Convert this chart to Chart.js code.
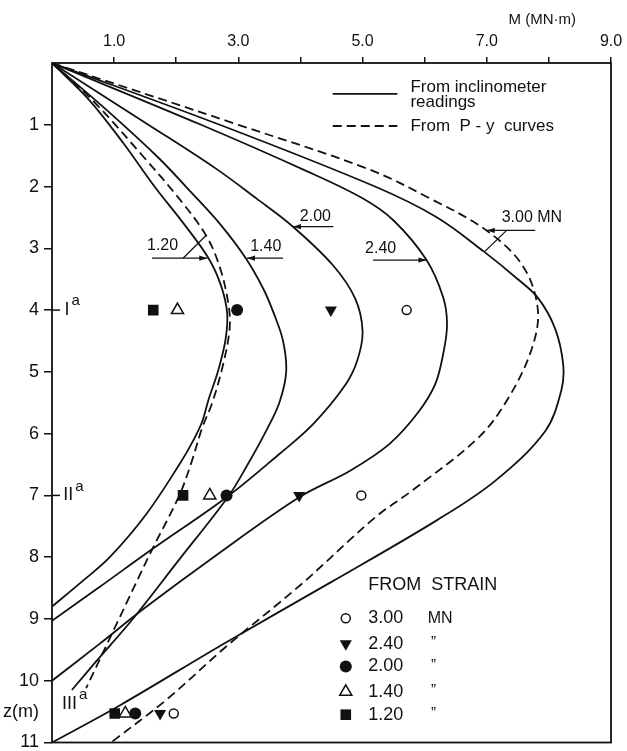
<!DOCTYPE html>
<html>
<head>
<meta charset="utf-8">
<script src="https://cdn.jsdelivr.net/npm/chart.js@4.4.0/dist/chart.umd.min.js"></script>
<style>
  html, body { margin: 0; padding: 0; background: #fff; }
</style>
</head>
<body>
<canvas id="myChart" width="627" height="751"></canvas>
<script>
// bending moment M (MN·m) against depth z (m); each pair is [M, z]
// solid lines, from inclinometer readings
const incl120 = [[0,0],[0.6,0.6],[1.15,1.3],[1.65,2.0],[2.12,2.6],[2.52,3.16],[2.72,3.6],[2.82,4.05],[2.79,4.5],[2.67,5.0],[2.52,5.45],[2.42,5.8],[2.28,6.1],[2.05,6.5],[1.52,7.3],[0.93,8.0],[0.5,8.38],[0,8.8]];
const incl140 = [[0,0],[0.9,0.78],[1.73,1.55],[2.2,2.05],[2.7,2.6],[3.12,3.16],[3.4,3.65],[3.57,4.05],[3.72,4.5],[3.77,5.0],[3.66,5.5],[3.45,5.95],[3.15,6.5],[2.85,7.0],[2.0,8.1],[1.3,9.0],[0.7,9.7],[0.32,10.15]];
const incl200 = [[0,0],[1.57,1.01],[2.64,1.71],[3.3,2.2],[3.88,2.65],[4.52,3.27],[4.88,3.81],[5.0,4.34],[4.92,4.8],[4.73,5.2],[4.2,5.85],[3.66,6.33],[2.85,7.0],[1.57,7.9],[0.77,8.48],[0,9.03]];
const incl240 = [[0,0],[2.4,1.0],[4.1,1.75],[5.0,2.19],[5.5,2.55],[6.03,3.19],[6.3,3.8],[6.36,4.24],[6.3,4.7],[6.17,5.2],[5.9,5.65],[5.43,6.17],[4.8,6.6],[3.98,7.03],[2.6,8.0],[1.47,8.84],[0.77,9.4],[0,10.0]];
const incl300 = [[0,0],[2.7,1.0],[5.2,2.0],[6.2,2.5],[6.95,3.05],[7.5,3.5],[7.83,3.81],[8.1,4.3],[8.23,4.88],[8.2,5.3],[7.94,5.96],[7.14,6.76],[6.2,7.4],[4.5,8.4],[2.8,9.38],[1.09,10.4],[0,11.0]];
// dashed lines, from P-y curves
const py120 = [[0,0],[0.65,0.6],[1.5,1.55],[2.05,2.2],[2.48,2.79],[2.7,3.3],[2.84,3.9],[2.86,4.3],[2.75,4.9],[2.58,5.5],[2.42,5.9],[2.25,6.45],[2.05,7.0],[1.6,7.9],[1.04,9.08],[0.55,10.12]];
const py300 = [[0,0],[3.0,1.0],[5.1,1.72],[6.1,2.2],[6.98,2.7],[7.57,3.27],[7.82,3.97],[7.73,4.61],[7.35,5.42],[6.87,6.06],[5.8,6.92],[5.21,7.35],[4.0,8.45],[2.8,9.45],[1.84,10.31],[0.95,11.0]];

// points from strain gauges, at three depths
const strainDepths = [4.0, 7.0, 10.53];
const strain300 = [5.71, 4.98, 1.96];
const strain240 = [4.49, 3.98, 1.74];
const strain200 = [2.98, 2.81, 1.34];
const strain140 = [2.02, 2.54, 1.18];
const strain120 = [1.63, 2.11, 1.01];
const strainLoads = ['3.00', '2.40', '2.00', '1.40', '1.20'];

// axis ticks
const xTickValues = [1, 2, 3, 4, 5, 6, 7, 8, 9];
const xTickLabels = ['1.0', '', '3.0', '', '5.0', '', '7.0', '', '9.0'];
const yTickValues = [1, 2, 3, 4, 5, 6, 7, 8, 9, 10, 10.5, 11];
const yTickLabels = ['1', '2', '3', '4', '5', '6', '7', '8', '9', '10', 'z(m)', '11'];

const FONT = 'Liberation Sans, Arial, Helvetica, sans-serif';
const INK = '#111';

function toXY(pairs) {
    return pairs.map(p => ({ x: p[0], y: p[1] }));
}
function strainXY(values) {
    return values.map((v, i) => ({ x: v, y: strainDepths[i] }));
}

function curve(label, pairs, dashed) {
    return {
        label: label,
        data: toXY(pairs),
        showLine: true,
        borderColor: INK,
        borderWidth: 1.8,
        borderDash: dashed ? [9, 5] : [],
        tension: 0.35,
        pointRadius: 0,
        pointHoverRadius: 0
    };
}

// marker looks, shared by the datasets and the legend
const markerStyles = [
    { pointStyle: 'circle', radius: 4.5, rotation: 0, fill: '#fff', borderWidth: 1.5 },
    { pointStyle: 'triangle', radius: 7, rotation: 180, fill: INK, borderWidth: 0 },
    { pointStyle: 'circle', radius: 6, rotation: 0, fill: INK, borderWidth: 0 },
    { pointStyle: 'triangle', radius: 7, rotation: 0, fill: '#fff', borderWidth: 1.5 },
    { pointStyle: 'rect', radius: 7.5, rotation: 0, fill: INK, borderWidth: 0 }
];

function markers(label, values, st) {
    return {
        label: label,
        data: strainXY(values),
        showLine: false,
        pointStyle: st.pointStyle,
        pointRadius: st.radius,
        pointRotation: st.rotation,
        pointBackgroundColor: st.fill,
        pointBorderColor: INK,
        pointBorderWidth: st.borderWidth
    };
}

function arrowLine(ctx, x1, y1, x2, y2, head) {
    ctx.beginPath();
    ctx.moveTo(x1, y1);
    ctx.lineTo(x2, y2);
    ctx.stroke();
    if (head) {
        const a = Math.atan2(y2 - y1, x2 - x1);
        ctx.beginPath();
        ctx.moveTo(x2, y2);
        ctx.lineTo(x2 - 8 * Math.cos(a) + 2.6 * Math.sin(a), y2 - 8 * Math.sin(a) - 2.6 * Math.cos(a));
        ctx.lineTo(x2 - 8 * Math.cos(a) - 2.6 * Math.sin(a), y2 - 8 * Math.sin(a) + 2.6 * Math.cos(a));
        ctx.closePath();
        ctx.fill();
    }
}

const decorations = {
    id: 'decorations',
    beforeDatasetsDraw(chart) {
        const { ctx, chartArea: a } = chart;
        ctx.save();
        ctx.strokeStyle = INK;
        ctx.lineWidth = 1.8;
        ctx.strokeRect(a.left, a.top, a.right - a.left, a.bottom - a.top);
        ctx.restore();
    },
    afterDatasetsDraw(chart) {
        const { ctx } = chart;
        const xs = chart.scales.x, ys = chart.scales.y;
        const X = m => xs.getPixelForValue(m);
        const Y = z => ys.getPixelForValue(z);
        ctx.save();
        ctx.fillStyle = INK;
        ctx.strokeStyle = INK;
        ctx.lineWidth = 1.3;
        ctx.textBaseline = 'middle';

        // axis title
        ctx.font = '15px ' + FONT;
        ctx.textAlign = 'right';
        ctx.fillText('M (MN\u00b7m)', 576, 20);

        // load labels with arrows
        ctx.textAlign = 'left';
        ctx.font = '16px ' + FONT;
        const loadNotes = [
            { text: '1.20', m: 1.53, z: 2.95, arrow: [1.61, 2.50, 3.16], slant: [2.11, 3.16, 2.49, 2.78] },
            { text: '1.40', m: 3.19, z: 2.97, arrow: [3.72, 3.14, 3.16] },
            { text: '2.00', m: 3.99, z: 2.49, arrow: [4.53, 3.88, 2.65] },
            { text: '2.40', m: 5.04, z: 3.0, arrow: [5.17, 6.03, 3.19] },
            { text: '3.00 MN', m: 7.24, z: 2.5, arrow: [7.78, 7.0, 2.71], slant: [7.32, 2.71, 6.97, 3.05] }
        ];
        loadNotes.forEach(n => {
            ctx.fillText(n.text, X(n.m), Y(n.z));
            arrowLine(ctx, X(n.arrow[0]), Y(n.arrow[2]), X(n.arrow[1]), Y(n.arrow[2]), true);
            if (n.slant) {
                arrowLine(ctx, X(n.slant[0]), Y(n.slant[1]), X(n.slant[2]), Y(n.slant[3]), false);
            }
        });

        // section marks on the left axis
        ctx.lineWidth = 1.5;
        [4, 7].forEach(z => {
            ctx.beginPath();
            ctx.moveTo(X(0), Y(z));
            ctx.lineTo(X(0.13), Y(z));
            ctx.stroke();
        });
        const sections = [['I', 0.2, 4.0], ['II', 0.18, 7.0], ['III', 0.16, 10.37]];
        sections.forEach(s => {
            ctx.font = '18px ' + FONT;
            ctx.fillText(s[0], X(s[1]), Y(s[2]));
            const w = ctx.measureText(s[0]).width;
            ctx.font = '15px ' + FONT;
            ctx.fillText('a', X(s[1]) + w + 2, Y(s[2]) - 9);
        });

        // line legend
        ctx.lineWidth = 1.8;
        ctx.beginPath();
        ctx.moveTo(X(4.52), Y(0.5));
        ctx.lineTo(X(5.56), Y(0.5));
        ctx.stroke();
        ctx.setLineDash([9, 5]);
        ctx.beginPath();
        ctx.moveTo(X(4.52), Y(1.02));
        ctx.lineTo(X(5.56), Y(1.02));
        ctx.stroke();
        ctx.setLineDash([]);
        ctx.font = '17px ' + FONT;
        ctx.fillText('From inclinometer', X(5.77), Y(0.39));
        ctx.fillText('readings', X(5.77), Y(0.63));
        ctx.fillText('From  P - y  curves', X(5.77), Y(1.02));

        // strain legend
        ctx.font = '18px ' + FONT;
        ctx.fillText('FROM  STRAIN', X(5.09), Y(8.45));
        const rowZ = [8.99, 9.4, 9.77, 10.18, 10.55];
        strainLoads.forEach((load, i) => {
            const st = markerStyles[i];
            ctx.fillStyle = st.fill;
            ctx.strokeStyle = INK;
            ctx.lineWidth = st.borderWidth;
            Chart.helpers.drawPoint(ctx, {
                pointStyle: st.pointStyle, radius: st.radius,
                rotation: st.rotation, borderWidth: st.borderWidth
            }, X(4.73), Y(rowZ[i]));
            ctx.fillStyle = INK;
            ctx.font = '18px ' + FONT;
            ctx.fillText(load, X(5.09), Y(rowZ[i]));
            if (i === 0) {
                ctx.font = '16px ' + FONT;
                ctx.fillText('MN', X(6.05), Y(rowZ[i]));
            } else {
                ctx.font = '15px ' + FONT;
                ctx.fillText('\u201d', X(6.1), Y(rowZ[i]) - 2);
            }
        });
        ctx.restore();
    }
};

const datasets = [
    curve('1.20 inclinometer', incl120, false),
    curve('1.40 inclinometer', incl140, false),
    curve('2.00 inclinometer', incl200, false),
    curve('2.40 inclinometer', incl240, false),
    curve('3.00 inclinometer', incl300, false),
    curve('1.20 P-y', py120, true),
    curve('3.00 P-y', py300, true),
    markers('3.00 strain', strain300, markerStyles[0]),
    markers('2.40 strain', strain240, markerStyles[1]),
    markers('2.00 strain', strain200, markerStyles[2]),
    markers('1.40 strain', strain140, markerStyles[3]),
    markers('1.20 strain', strain120, markerStyles[4])
];

const config = {
    type: 'scatter',
    data: { datasets: datasets },
    options: {
        responsive: false,
        animation: false,
        devicePixelRatio: 1,
        layout: { padding: { left: 0, right: 16, top: 0, bottom: 3 } },
        plugins: {
            legend: { display: false },
            tooltip: { enabled: false }
        },
        scales: {
            x: {
                type: 'linear',
                position: 'top',
                min: 0,
                max: 9,
                afterBuildTicks: s => { s.ticks = xTickValues.map(v => ({ value: v })); },
                afterFit: s => { s.height = 63; s.paddingLeft = 0; s.paddingRight = 0; },
                ticks: {
                    autoSkip: false,
                    maxRotation: 0,
                    padding: 6,
                    color: INK,
                    font: { family: FONT, size: 16 },
                    callback: v => xTickLabels[xTickValues.indexOf(v)] || ''
                },
                grid: { drawOnChartArea: false, drawTicks: true, tickLength: 6, color: INK, lineWidth: 1.5 },
                border: { display: false }
            },
            y: {
                type: 'linear',
                reverse: true,
                min: 0,
                max: 11,
                afterBuildTicks: s => { s.ticks = yTickValues.map(v => ({ value: v })); },
                afterFit: s => { s.width = 52; s.paddingTop = 0; s.paddingBottom = 0; },
                ticks: {
                    autoSkip: false,
                    padding: 5,
                    color: INK,
                    font: { family: FONT, size: 18 },
                    callback: v => yTickLabels[yTickValues.indexOf(v)] || ''
                },
                grid: {
                    drawOnChartArea: false,
                    drawTicks: true,
                    tickLength: 8,
                    lineWidth: 1.5,
                    color: ctx => (ctx.tick && ctx.tick.value === 10.5 ? 'rgba(0,0,0,0)' : INK)
                },
                border: { display: false }
            }
        }
    },
    plugins: [decorations]
};

const myChart = new Chart(document.getElementById('myChart'), config);
</script>
</body>
</html>
